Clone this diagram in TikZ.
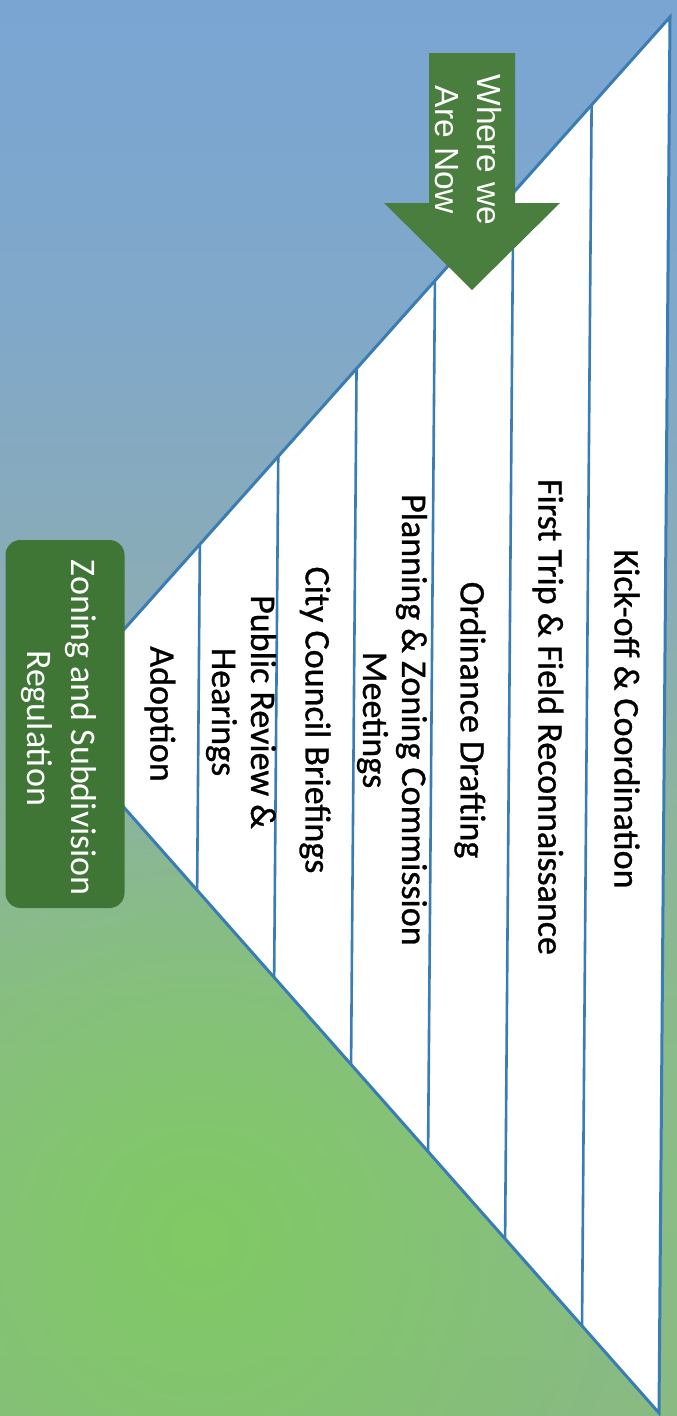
\documentclass[tikz,border=0pt]{standalone}
\usepackage{fontspec}
\setmainfont{Carlito}
\newfontfamily\stripefont{Carlito}[FakeBold=0.8]
\newfontfamily\arrowfont{Liberation Sans}
\usetikzlibrary{fadings}
\definecolor{lineblue}{HTML}{3A7DB4}
\definecolor{boxgreen}{HTML}{3F7636}
\definecolor{arrowgreen}{HTML}{4A7E3E}
\definecolor{bgA}{RGB}{122,165,211}
\definecolor{bgB}{RGB}{128,168,202}
\definecolor{bgC}{RGB}{138,172,182}
\definecolor{bgD}{RGB}{140,180,158}
\definecolor{bgE}{RGB}{138,186,140}
\definecolor{bgF}{RGB}{138,188,134}
\definecolor{bgG}{RGB}{136,186,130}
\definecolor{blobgreen}{RGB}{128,202,100}
% positions: p = 75 - 50*y/1416 (y in px from top)
\pgfdeclareverticalshading{bgshade}{100bp}{
  color(0bp)=(bgG); color(25bp)=(bgG);
  color(33.7bp)=(bgF); color(39.7bp)=(bgE);
  color(46.8bp)=(bgD); color(53.8bp)=(bgC);
  color(64.4bp)=(bgB); color(75bp)=(bgA); color(100bp)=(bgA)}
\tikzfading[name=blobfade, inner color=transparent!0, outer color=transparent!100]
\tikzset{
  stripetext/.style={font=\stripefont\fontsize{36}{39}\selectfont, rotate=-90, align=center, inner sep=0pt, text=black},
  greenbox/.style={fill=boxgreen, rounded corners=15pt, draw=none},
  boxtext/.style={font=\fontsize{36}{44}\selectfont, rotate=-90, align=center, inner sep=0pt, text=white},
  arrowtext/.style={font=\arrowfont\fontsize{33.5}{42}\selectfont, rotate=-90, align=center, inner sep=0pt, text=white},
  edge/.style={draw=lineblue, line width=3pt, line join=miter},
  divider/.style={draw=lineblue, line width=2.6pt},
}
\begin{document}
\begin{tikzpicture}[x=1pt,y=-1pt]
\useasboundingbox (0,0) rectangle (677,1416);
\fill[shading=bgshade] (0,0) rectangle (677,1416);
\begin{scope}
\clip (0,0) rectangle (677,1416);
\fill[blobgreen, path fading=blobfade] (200,1240) circle (430);
\end{scope}
% funnel
\coordinate (A) at (45,718);
\coordinate (B) at (670,17);
\coordinate (C) at (659,1413);
\fill[white] (A) -- (B) -- (C) -- cycle;
\foreach \m in {198.5,276.2,353.8,431.5,509.2,586.8}{
  \coordinate (P1) at (\m+5.65,0);
  \coordinate (P2) at (\m-5.54,1416);
  \draw[divider] (intersection of P1--P2 and A--B) -- (intersection of P1--P2 and A--C);
}
\draw[edge] (A) -- (B) -- (C) -- cycle;
% stage labels
\node[stripetext] (kick) at (627,719) {Kick-off \& Coordination};
\node[stripetext] (trip) at (548,717) {First Trip \& Field Reconnaissance};
\node[stripetext] (draft) at (470,720) {Ordinance Drafting};
\node[stripetext] (pz) at (392,720) {Planning \& Zoning Commission\\Meetings};
\node[stripetext] (council) at (315,720) {City Council Briefings};
\node[stripetext] (review) at (241,712) {Public Review \&\\Hearings};
\node[stripetext] (adopt) at (160,714) {Adoption};
% green box
\node[greenbox, minimum width=119pt, minimum height=368pt] (zbox) at (65,724) {};
\node[boxtext] (ztext) at (59,728) {Zoning and Subdivision\\Regulation};
% arrow
\fill[arrowgreen] (429,53) -- (515,53) -- (515,203) -- (560,203) -- (472,290) -- (384,203) -- (429,203) -- cycle;
\node[arrowtext] (where) at (468,150) {Where we\\Are Now};
\end{tikzpicture}
\end{document}
